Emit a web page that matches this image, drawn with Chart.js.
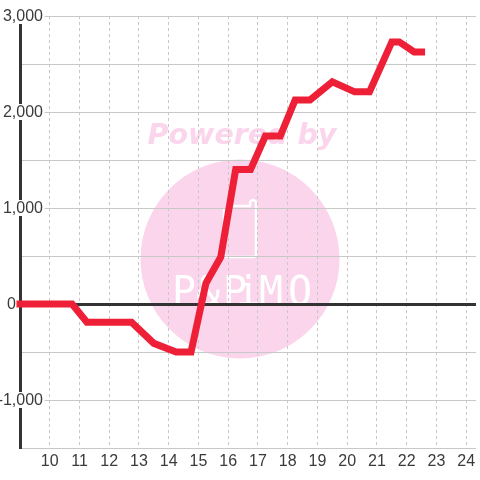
<!DOCTYPE html>
<html>
<head>
<meta charset="utf-8">
<script src="https://cdn.jsdelivr.net/npm/chart.js@4"></script>
<style>
  html, body { margin: 0; padding: 0; background: #fff; }
  #box { width: 480px; height: 480px; }
</style>
</head>
<body>
<div id="box"><canvas id="grafico"></canvas></div>
<script>
const hours = [9, 10.75, 11.25, 12.75, 13.5, 14.25, 14.75, 15.25, 15.75, 16.25, 16.75, 17.25, 17.75, 18.25, 18.75, 19.5, 20.25, 20.75, 21.5, 21.75, 22.25, 22.5];
const values = [0, 0, -190, -190, -410, -500, -500, 215, 490, 1400, 1400, 1750, 1750, 2125, 2125, 2315, 2210, 2210, 2730, 2730, 2625, 2625];
const xTicks = [10, 11, 12, 13, 14, 15, 16, 17, 18, 19, 20, 21, 22, 23, 24];
const yTicks = [3000, 2500, 2000, 1500, 1000, 500, 0, -500, -1000, -1500];
const yLabels = ["3,000", "2,000", "1,000", "0", "-1,000"];
const yLabelValues = [3000, 2000, 1000, 0, -1000];
const yLabelRight = [43, 43, 43, 16, 43];
const xMax = 24.33;

const logoLetters = ["P", "&", "P", "i", "M", "O"];
const logoCenters = [184, 208, 235, 248, 271, 300];

// watermark behind the grid
const watermark = {
  id: "watermark",
  beforeDraw(chart) {
    const ctx = chart.ctx;
    ctx.save();
    ctx.fillStyle = "#fbd5ec";
    ctx.beginPath();
    ctx.arc(240, 259, 99.5, 0, Math.PI * 2);
    ctx.fill();
    ctx.font = "italic bold 28.5px 'DejaVu Sans'";
    ctx.textAlign = "center";
    ctx.textBaseline = "alphabetic";
    ctx.fillText("Powered by", 242, 144);
    // icon
    ctx.strokeStyle = "#fff";
    ctx.lineWidth = 2.5;
    ctx.lineJoin = "round";
    ctx.beginPath();
    ctx.moveTo(224, 208);
    ctx.lineTo(224, 254);
    ctx.quadraticCurveTo(224, 257, 227, 257);
    ctx.lineTo(253, 257);
    ctx.quadraticCurveTo(256, 257, 256, 254);
    ctx.lineTo(256, 202);
    ctx.quadraticCurveTo(253, 198, 250, 202);
    ctx.lineTo(250, 206);
    ctx.lineTo(226, 206);
    ctx.stroke();
    // logo text
    ctx.fillStyle = "#fff";
    ctx.font = "40px 'DejaVu Sans Mono'";
    logoLetters.forEach((ch, i) => ctx.fillText(ch, logoCenters[i], 305));
    ctx.restore();
  }
};

// y labels sit over the axis with a white backing
const yLabelPlugin = {
  id: "yLabelPlugin",
  afterDatasetsDraw(chart) {
    const ctx = chart.ctx;
    const y = chart.scales.y;
    ctx.save();
    ctx.font = "16px 'Liberation Sans'";
    ctx.textAlign = "right";
    ctx.textBaseline = "middle";
    yLabels.forEach((label, i) => {
      const py = y.getPixelForValue(yLabelValues[i]);
      const w = ctx.measureText(label).width;
      if (yLabelValues[i] !== 0) {
        ctx.fillStyle = "#fff";
        ctx.fillRect(yLabelRight[i] - w, py - 8, w + 1.5, 16);
      }
      ctx.fillStyle = "#3a3a3a";
      ctx.fillText(label, yLabelRight[i], py + 0.5);
    });
    ctx.restore();
  }
};

new Chart(document.getElementById("grafico").getContext("2d"), {
  type: "line",
  data: {
    datasets: [{
      data: hours.map((h, i) => ({ x: h, y: values[i] })),
      borderColor: "#ee2037",
      borderWidth: 7,
      borderCapStyle: "square",
      borderJoinStyle: "miter",
      pointRadius: 0,
      tension: 0,
      clip: false
    }]
  },
  options: {
    responsive: true,
    maintainAspectRatio: false,
    animation: false,
    layout: { padding: { top: 16, left: 0, right: 0, bottom: 0 } },
    plugins: { legend: { display: false }, tooltip: { enabled: false } },
    scales: {
      x: {
        type: "linear",
        min: 9,
        max: xMax,
        // blank last tick so the "24" label does not shrink the plot
        afterBuildTicks: (scale) => { scale.ticks = xTicks.concat(xMax).map((v) => ({ value: v })); },
        grid: {
          color: (c) => (c.tick && c.tick.value === xMax ? "rgba(0,0,0,0)" : "#c8c8c8"),
          lineWidth: 1,
          drawTicks: false
        },
        border: { display: false, dash: [3, 3] },
        ticks: {
          color: "#3a3a3a",
          font: { family: "'Liberation Sans'", size: 16 },
          maxRotation: 0,
          autoSkip: false,
          padding: 4,
          callback: (v) => (v === xMax ? "" : String(v))
        },
        afterFit: (scale) => { scale.height = 32; }
      },
      y: {
        min: -1500,
        max: 3000,
        afterBuildTicks: (scale) => { scale.ticks = yTicks.map((v) => ({ value: v })); },
        grid: {
          color: (c) => (c.tick && c.tick.value === 0 ? "#333333" : "#c8c8c8"),
          lineWidth: (c) => (c.tick && c.tick.value === 0 ? 3 : 1),
          drawTicks: false
        },
        border: { display: true, color: "#333333", width: 3 },
        ticks: { display: false },
        afterFit: (scale) => { scale.width = 20; }
      }
    }
  },
  plugins: [watermark, yLabelPlugin]
});
</script>
</body>
</html>
